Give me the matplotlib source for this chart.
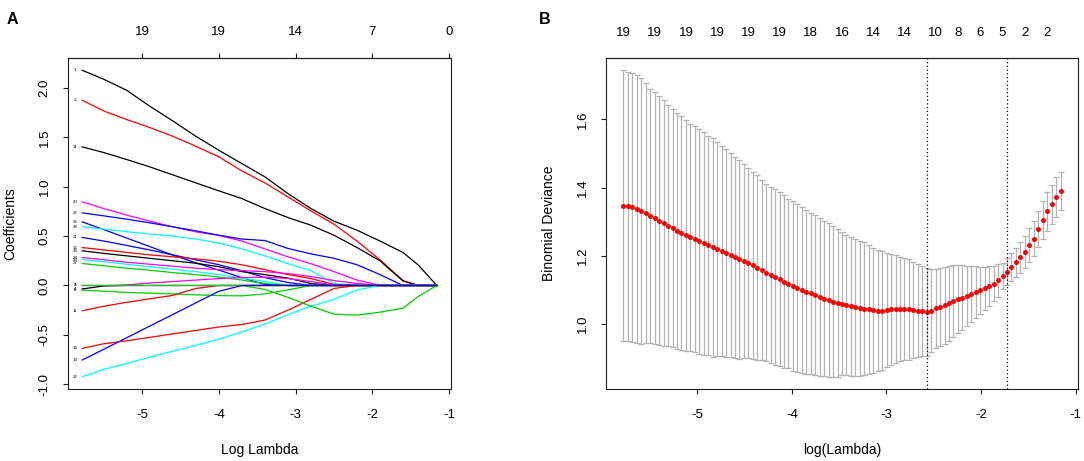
import numpy as np
import matplotlib
matplotlib.use("Agg")
import matplotlib.pyplot as plt

plt.rcParams['font.family'] = ['Liberation Sans', 'DejaVu Sans']

# ---------------- panel A : coefficient paths ----------------
path_x = [-5.78, -5.5, -5.2, -4.9, -4.6, -4.3, -4.0, -3.7, -3.4, -3.1, -2.8, -2.5, -2.2, -1.9, -1.6, -1.4, -1.16]

b1 = [2.179, 2.088, 1.976, 1.815, 1.666, 1.511, 1.369, 1.234, 1.100, 0.931, 0.779, 0.651, 0.56, 0.45, 0.334, 0.206, 0]
b2 = [1.875, 1.767, 1.680, 1.599, 1.511, 1.410, 1.302, 1.160, 1.039, 0.897, 0.755, 0.621, 0.45, 0.26, 0.05, 0, 0]
b3 = [1.403, 1.346, 1.275, 1.201, 1.120, 1.039, 0.958, 0.880, 0.779, 0.688, 0.610, 0.509, 0.384, 0.25, 0.045, 0, 0]
b4 = [0.847, 0.779, 0.712, 0.651, 0.594, 0.543, 0.506, 0.45, 0.37, 0.29, 0.22, 0.14, 0.055, 0, 0, 0, 0]
b5 = [0.735, 0.705, 0.671, 0.634, 0.594, 0.553, 0.509, 0.47, 0.455, 0.375, 0.32, 0.275, 0.21, 0.11, 0, 0, 0]
b6 = [0.644, 0.566, 0.48, 0.394, 0.307, 0.23, 0.155, 0.08, 0.01, 0, 0, 0, 0, 0, 0, 0, 0]
b7 = [0.594, 0.57, 0.545, 0.52, 0.50, 0.47, 0.43, 0.37, 0.30, 0.22, 0.15, 0.02, 0, 0, 0, 0, 0]
b8 = [0.486, 0.45, 0.405, 0.36, 0.31, 0.26, 0.21, 0.15, 0.08, 0.03, 0, 0, 0, 0, 0, 0, 0]
b9 = [0.384, 0.36, 0.335, 0.31, 0.29, 0.27, 0.245, 0.21, 0.16, 0.11, 0.07, 0.01, 0, 0, 0, 0, 0]
b10 = [0.351, 0.325, 0.30, 0.275, 0.25, 0.225, 0.19, 0.14, 0.11, 0.075, 0.02, 0, 0, 0, 0, 0, 0]
b11 = [0.283, 0.26, 0.235, 0.215, 0.195, 0.175, 0.16, 0.15, 0.14, 0.12, 0.09, 0.05, 0.02, 0, 0, 0, 0]
b12 = [0.263, 0.24, 0.215, 0.19, 0.165, 0.14, 0.11, 0.075, 0.04, 0, 0, 0, 0, 0, 0, 0, 0]
b13 = [0.223, 0.20, 0.175, 0.155, 0.13, 0.11, 0.085, 0.055, 0.02, 0, 0, 0, 0, 0, 0, 0, 0]
b14 = [0, 0, 0.005, 0.025, 0.04, 0.055, 0.07, 0.08, 0.085, 0.07, 0.04, 0.005, 0, 0, 0, 0, 0]
b15 = [-0.047, -0.058, -0.07, -0.078, -0.085, -0.095, -0.102, -0.105, -0.085, -0.045, 0, 0, 0, 0, 0, 0, 0]
b17 = [-0.035, -0.005, 0, 0, 0, 0, 0, 0, 0, 0, 0, 0, 0, 0, 0, 0, 0]
b18 = [-0.256, -0.21, -0.17, -0.135, -0.10, -0.03, 0, 0, 0, 0, 0, 0, 0, 0, 0, 0, 0]
b20 = [-0.637, -0.59, -0.56, -0.525, -0.49, -0.455, -0.42, -0.395, -0.35, -0.25, -0.14, -0.03, 0, 0, 0, 0, 0]
b21 = [-0.924, -0.85, -0.79, -0.725, -0.665, -0.605, -0.545, -0.47, -0.39, -0.295, -0.21, -0.14, -0.045, 0, 0, 0, 0]
b16 = [0, 0, 0, 0, 0, 0, 0, 0, -0.04, -0.12, -0.21, -0.29, -0.30, -0.27, -0.23, -0.11, 0]
b19 = [-0.755, -0.646, -0.529, -0.411, -0.294, -0.176, -0.059, 0, 0, 0, 0, 0, 0, 0, 0, 0, 0]

paths = [b1, b2, b3, b4, b5, b6, b7, b8, b9, b10, b11, b12, b13, b14, b15, b17, b18, b20, b21, b16, b19]
path_names = ['1', '2', '31', '30', '26', '36', '28', '21', '15', '24', '29', '23', '27', '9', '8', '4', '11', '16', '22', '3', '13']
path_cols = ['black', 'red', 'black', 'magenta', 'blue', 'blue', 'cyan', 'blue', 'red', 'black', 'magenta',
             'cyan', '#00CD00', 'magenta', '#00CD00', 'black', 'red', 'red', 'cyan', '#00CD00', 'blue']

top_a_at = [-5, -4, -3, -2, -1]
top_a_lab = ['19', '19', '14', '7', '0']

# ---------------- panel B : cross-validation curve ----------------
loglam_first, loglam_last = -5.78, -1.16
cvm = [1.347, 1.345, 1.342, 1.337, 1.332, 1.326, 1.318, 1.311, 1.303, 1.296,
       1.289, 1.282, 1.274, 1.267, 1.260, 1.255, 1.249, 1.243, 1.237, 1.231,
       1.225, 1.220, 1.214, 1.208, 1.202, 1.196, 1.190, 1.185, 1.179, 1.173,
       1.166, 1.158, 1.151, 1.145, 1.138, 1.132, 1.125, 1.119, 1.112, 1.106,
       1.100, 1.095, 1.090, 1.085, 1.080, 1.075, 1.070, 1.066, 1.062, 1.060,
       1.056, 1.052, 1.049, 1.047, 1.045, 1.043, 1.041, 1.040, 1.040, 1.041,
       1.043, 1.044, 1.045, 1.044, 1.043, 1.042, 1.040, 1.038, 1.036, 1.040,
       1.046, 1.050, 1.055, 1.061, 1.067, 1.073, 1.078, 1.082, 1.087, 1.093,
       1.099, 1.105, 1.112, 1.119, 1.128, 1.141, 1.154, 1.168, 1.181, 1.196,
       1.211, 1.231, 1.251, 1.279, 1.305, 1.331, 1.351, 1.372, 1.390]
cvsd = [0.397, 0.395, 0.394, 0.392, 0.389, 0.381, 0.372, 0.368, 0.365, 0.360,
        0.354, 0.349, 0.346, 0.343, 0.339, 0.333, 0.332, 0.329, 0.326, 0.320,
        0.320, 0.313, 0.308, 0.304, 0.299, 0.295, 0.292, 0.283, 0.279, 0.274,
        0.271, 0.264, 0.259, 0.258, 0.257, 0.255, 0.253, 0.248, 0.248, 0.245,
        0.243, 0.241, 0.237, 0.234, 0.231, 0.228, 0.225, 0.221, 0.216, 0.210,
        0.206, 0.203, 0.201, 0.198, 0.195, 0.189, 0.183, 0.178, 0.173, 0.167,
        0.162, 0.158, 0.153, 0.150, 0.147, 0.141, 0.135, 0.132, 0.128, 0.121,
        0.117, 0.114, 0.113, 0.109, 0.106, 0.100, 0.094, 0.088, 0.082, 0.076,
        0.069, 0.063, 0.058, 0.052, 0.047, 0.039, 0.040, 0.041, 0.043, 0.045,
        0.047, 0.050, 0.052, 0.054, 0.056, 0.057, 0.058, 0.058, 0.055]
nz_idx = [0, 7, 14, 21, 28, 35, 42, 49, 56, 63, 70, 75, 80, 85, 90, 95]
nz_lab = ['19', '19', '19', '19', '19', '19', '18', '16', '14', '14', '10', '8', '6', '5', '2', '2']

W, H = 1084, 461
fig = plt.figure(figsize=(W / 100, H / 100), dpi=100)
axA = fig.add_axes([68 / W, 72 / H, 383 / W, 331 / H])
axB = fig.add_axes([606 / W, 72 / H, 472 / W, 331 / H])

fs = 9.5


def style(ax):
    for s in ax.spines.values():
        s.set_linewidth(0.8)
        s.set_color('#222222')
    ax.tick_params(direction='out', length=3.6, width=0.8, color='#222222', labelsize=fs)
    ax.tick_params(axis='x', pad=10.5)
    ax.tick_params(axis='y', pad=9)


# panel A
for vals, col in zip(paths, path_cols):
    axA.plot(path_x, vals, color=col, lw=0.9)
for vals, name in zip(paths, path_names):
    axA.text(-5.875, vals[0], name, fontsize=3.2, ha='center', va='center', color='black')

axA.set_xlim(-5.965, -0.975)
axA.set_ylim(-1.048, 2.303)
axA.set_xticks([-5, -4, -3, -2, -1])
axA.set_xticklabels(['-5', '-4', '-3', '-2', '-1'])
yt = [-1.0, -0.5, 0.0, 0.5, 1.0, 1.5, 2.0]
axA.set_yticks(yt)
axA.set_yticklabels([f'{v:.1f}' for v in yt], rotation=90, va='center')
style(axA)
secA = axA.secondary_xaxis('top')
secA.set_xticks(top_a_at)
secA.set_xticklabels(top_a_lab)
secA.tick_params(direction='out', length=3.6, width=0.8, color='#222222', labelsize=fs, pad=10.5)
secA.spines['top'].set_linewidth(0.8)
axA.set_xlabel('Log Lambda', fontsize=fs + 0.5)
axA.set_ylabel('Coefficients', fontsize=fs + 0.5)
axA.xaxis.set_label_coords(0.5, -0.184)
axA.xaxis.label.set_va('center')
axA.yaxis.set_label_coords(-0.151, 0.5)
axA.yaxis.label.set_va('center')

# panel B
lam = np.linspace(loglam_first, loglam_last, len(cvm))
cvm_a = np.array(cvm)
cvsd_a = np.array(cvsd)
i_min = int(np.argmin(cvm_a))
i_1se = int(np.max(np.where(cvm_a <= cvm_a[i_min] + cvsd_a[i_min])[0]))

axB.errorbar(lam, cvm_a, yerr=cvsd_a, fmt='none', ecolor='#b3b3b3', elinewidth=0.9,
             capsize=2.2, capthick=0.9, zorder=2)
axB.plot(lam, cvm_a, 'o', color='red', markersize=3.6, markeredgewidth=0, zorder=3)
axB.axvline(lam[i_min], color='black', ls=(0, (1, 2)), lw=0.9, zorder=4)
axB.axvline(lam[i_1se], color='black', ls=(0, (1, 2)), lw=0.9, zorder=4)

axB.set_xlim(-5.965, -0.975)
axB.set_ylim(0.81, 1.78)
axB.set_xticks([-5, -4, -3, -2, -1])
axB.set_xticklabels(['-5', '-4', '-3', '-2', '-1'])
ytb = [1.0, 1.2, 1.4, 1.6]
axB.set_yticks(ytb)
axB.set_yticklabels([f'{v:.1f}' for v in ytb], rotation=90, va='center')
style(axB)
secB = axB.secondary_xaxis('top')
secB.set_xticks(lam[nz_idx])
secB.set_xticklabels(nz_lab)
secB.tick_params(length=0, labelsize=fs, pad=14)
secB.spines['top'].set_linewidth(0.8)
axB.set_xlabel('log(Lambda)', fontsize=fs + 0.5)
axB.set_ylabel('Binomial Deviance', fontsize=fs + 0.5)
axB.xaxis.set_label_coords(0.5, -0.184)
axB.xaxis.label.set_va('center')
axB.yaxis.set_label_coords(-0.121, 0.5)
axB.yaxis.label.set_va('center')

fig.text(12 / W, 1 - 19 / H, 'A', fontsize=11.5, fontweight='bold', ha='center', va='center')
fig.text(545 / W, 1 - 19 / H, 'B', fontsize=11.5, fontweight='bold', ha='center', va='center')

fig.savefig('out.png', dpi=100)
